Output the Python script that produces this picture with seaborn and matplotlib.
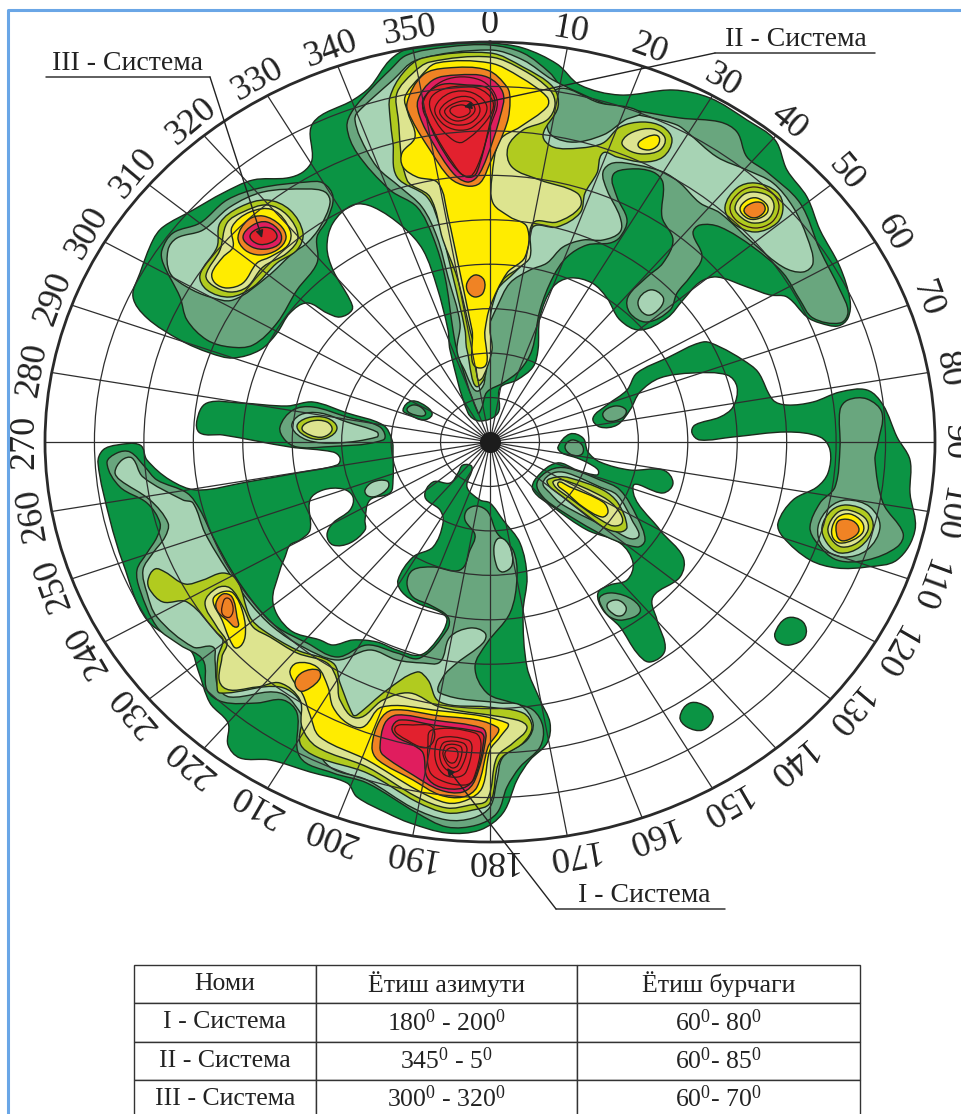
import numpy as np
import matplotlib
matplotlib.use('Agg')
import matplotlib.pyplot as plt
from matplotlib.path import Path
from matplotlib.patches import PathPatch
import seaborn as sns

# ── Values ───────────────────────────────────────────────────────
# contours: (east, north) offsets, the rim is at east 445 and north 400
N_1 = [(0,399),(33,394),(67,378),(90,357),(130,347),(183,352),(220,344),(257,322),(285,302),(297,272),(317,245),(330,212),(350,175),(360,142),(358,124),(348,116),(330,119),(317,125),(297,145),(280,147),(257,155),(227,165),(210,160),(193,142),(177,124),(150,112),(130,122),(117,144),(102,159),(80,164),(63,155),(50,125),(48,92),(43,75),(27,62),(10,54),(8,29),(-10,21),(-22,29),(-40,92),(-42,112),(-53,155),(-67,192),(-87,215),(-117,235),(-137,237),(-157,219),(-163,195),(-157,172),(-140,142),(-138,132),(-150,125),(-163,129),(-183,139),(-200,129),(-213,109),(-230,92),(-257,84),(-280,89),(-310,102),(-343,124),(-357,145),(-350,169),(-337,202),(-327,215),(-297,232),(-267,249),(-237,262),(-203,264),(-187,270),(-178,282),(-177,319),(-137,342),(-120,355),(-100,382),(-80,394),(-33,399)]
N_2 = [(0,397),(33,389),(60,369),(73,354),(107,339),(143,332),(190,324),(230,320),(247,310),(257,285),(277,270),(310,239),(330,192),(350,152),(358,130),(350,119),(323,124),(310,142),(293,169),(263,195),(230,215),(210,217),(203,209),(212,185),(200,165),(187,149),(180,132),(157,120),(140,129),(138,145),(157,165),(173,179),(183,202),(172,225),(173,259),(163,270),(140,273),(123,267),(127,245),(137,222),(130,205),(120,199),(97,197),(77,185),(63,165),(50,132),(42,92),(30,72),(13,59),(-3,50),(-8,35),(-12,29),(-33,92),(-37,112),(-45,165),(-57,205),(-73,235),(-100,252),(-133,289),(-143,315),(-137,332),(-117,355),(-100,372),(-83,387),(-43,395)]
N_3 = [(0,392),(33,382),(63,362),(110,340),(140,329),(163,324),(187,317),(197,310),(227,285),(257,272),(283,259),(303,235),(317,205),(323,179),(313,170),(293,175),(263,199),(230,229),(210,239),(190,259),(173,270),(147,277),(123,279),(113,270),(117,252),(130,225),(130,210),(113,202),(93,202),(73,195),(57,179),(40,172),(20,159),(7,135),(-3,112),(-8,92),(-10,52),(-27,75),(-33,92),(-30,119),(-42,165),(-53,205),(-68,235),(-90,255),(-113,275),(-130,305),(-135,322),(-133,329),(-97,362),(-73,382)]
N_2B = [(65,352),(58,312),(80,300),(113,307),(135,322),(150,330),(110,339)]
N_3B = [(148,140),(160,152),(173,145),(170,134),(157,127)]
N_4 = [(0,389),(33,375),(63,355),(68,335),(53,307),(63,295),(90,294),(113,299),(130,315),(153,320),(173,315),(182,302),(173,285),(153,280),(127,285),(113,289),(107,269),(95,249),(90,229),(67,215),(43,215),(38,185),(25,170),(7,152),(-3,125),(-5,112),(-10,57),(-23,92),(-25,112),(-37,165),(-50,215),(-63,245),(-93,265),(-97,299),(-100,325),(-100,345),(-87,369),(-67,384)]
N_5 = [(0,385),(33,372),(60,352),(65,337),(57,322),(33,312),(18,295),(22,275),(50,262),(87,249),(90,235),(67,220),(43,219),(40,185),(30,175),(13,162),(2,135),(0,112),(2,92),(-7,65),(-12,62),(-15,92),(-20,112),(-33,165),(-47,202),(-60,245),(-83,262),(-92,325),(-93,349),(-77,369),(-60,380)]
N_6 = [(-70,365),(-53,379),(0,379),(30,365),(57,345),(57,335),(30,315),(10,302),(2,265),(3,239),(20,225),(37,215),(35,185),(17,169),(0,135),(-5,112),(-10,74),(-18,112),(-32,179),(-42,225),(-52,259),(-73,265),(-87,275),(-88,289),(-75,305),(-82,329),(-85,345)]
N_7 = [(-83,339),(-67,367),(-43,374),(-3,372),(17,355),(20,342),(17,319),(0,279),(-10,259),(-23,256),(-40,264),(-60,292),(-78,322)]
N_8 = [(-72,342),(-57,362),(-33,367),(-3,365),(13,349),(10,325),(-3,285),(-13,265),(-23,260),(-37,269),(-57,299),(-70,325)]
N_9 = [(-67,342),(-50,357),(-23,357),(-3,354),(5,340),(0,319),(-10,279),(-18,265),(-33,272),(-53,302),(-63,325)]
N_RINGS = [
    [(-67,339),(-57,312),(-37,279),(-23,265),(-13,275),(0,315),(7,342),(-10,362),(-45,362)],
    [(-60,342),(-43,354),(-13,354),(3,340),(-3,322),(-27,300),(-37,302),(-53,319)],
    [(-55,334),(-40,349),(-17,349),(-3,334),(-17,315),(-33,312),(-48,319)],
    [(-50,332),(-35,344),(-18,344),(-10,332),(-18,320),(-33,317),(-45,322)],
    [(-45,332),(-32,340),(-20,340),(-15,332),(-22,324),(-33,321),(-42,325)],
    [(-40,332),(-30,337),(-22,335),(-20,330),(-25,326),(-33,325)],
]
N_7B = [(-23,159),(-15,167),(-6,162),(-7,149),(-15,145),(-22,150)]
ARM_5 = [(132,300),(143,310),(163,313),(175,304),(170,292),(153,288),(138,292)]
ARM_6 = [(148,297),(157,305),(168,306),(168,297),(158,292)]
B40_4 = [(235,235),(247,254),(265,259),(287,250),(293,235),(287,219),(265,210),(243,219)]
B40_RING = [(240,235),(250,250),(265,255),(283,248),(289,235),(282,220),(265,214),(247,221)]
B40_5 = [(245,234),(253,247),(265,250),(280,245),(284,234),(277,222),(263,219),(252,224)]
B40_6 = [(250,233),(257,242),(267,244),(277,237),(277,229),(267,223),(257,224)]
B40_7 = [(254,232),(262,239),(272,239),(275,232),(268,225),(260,225)]

NW_2 = [(-328,192),(-317,209),(-290,219),(-263,242),(-230,254),(-183,260),(-167,259),(-157,245),(-163,222),(-173,205),(-173,179),(-193,152),(-213,119),(-237,97),(-260,95),(-283,102),(-303,122),(-310,145),(-327,179)]
NW_3 = [(-322,192),(-313,204),(-287,212),(-260,235),(-227,250),(-183,253),(-165,250),(-160,239),(-170,215),(-183,199),(-197,189),(-223,165),(-257,142),(-280,145),(-303,155),(-320,169)]
NW_4 = [(-290,167),(-273,195),(-270,219),(-250,235),(-223,242),(-200,232),(-187,209),(-193,192),(-213,179),(-237,155),(-260,145),(-283,152)]
NW_5 = [(-284,167),(-270,192),(-263,219),(-247,230),(-223,237),(-203,227),(-192,205),(-203,189),(-227,175),(-243,155),(-260,150),(-278,157)]
NW_6 = [(-278,169),(-267,185),(-257,195),(-258,215),(-240,230),(-217,232),(-200,212),(-202,197),(-220,185),(-233,179),(-247,159),(-263,154),(-275,159)]
NW_7 = [(-252,205),(-242,222),(-227,226),(-210,217),(-204,204),(-213,192),(-230,187),(-245,192)]
NW_8 = [(-247,205),(-237,217),(-223,220),(-210,210),(-210,199),(-223,193),(-238,195)]
NW_9 = [(-240,206),(-230,214),(-218,213),(-213,205),(-220,199),(-232,198)]

W_2 = [(-210,15),(-197,32),(-177,35),(-143,25),(-110,15),(-107,2),(-167,-5),(-193,-5),(-205,2)]
W_3 = [(-198,15),(-190,27),(-170,29),(-143,20),(-113,10),(-113,5),(-153,-1),(-183,2)]
W_4 = [(-193,15),(-183,24),(-163,24),(-153,14),(-163,4),(-180,4)]
W_5 = [(-188,14),(-178,21),(-163,20),(-158,12),(-167,5),(-180,7)]
ISLET_1 = [(-87,32),(-78,41),(-63,35),(-58,27),(-67,22),(-80,27)]
ISLET_2 = [(-83,32),(-77,37),(-68,34),(-65,27),(-75,27)]

SW_1 = [(-293,22),(-283,39),(-250,39),(-203,36),(-177,40),(-143,29),(-107,17),(-98,2),(-97,-13),(-97,-38),(-100,-51),(-120,-58),(-125,-78),(-125,-88),(-140,-101),(-157,-103),(-163,-93),(-157,-81),(-140,-68),(-137,-55),(-147,-47),(-167,-48),(-180,-58),(-180,-88),(-190,-98),(-200,-103),(-205,-115),(-210,-128),(-217,-161),(-200,-188),(-170,-198),(-157,-203),(-137,-198),(-113,-200),(-93,-208),(-70,-213),(-53,-198),(-43,-178),(-50,-170),(-73,-161),(-88,-150),(-92,-138),(-77,-115),(-57,-105),(-47,-81),(-50,-68),(-65,-55),(-57,-40),(-40,-41),(-32,-31),(-27,-23),(-18,-25),(-23,-45),(-10,-58),(0,-61),(13,-78),(30,-101),(37,-135),(33,-171),(37,-225),(50,-258),(60,-281),(57,-301),(40,-318),(27,-338),(13,-371),(-10,-388),(-43,-391),(-80,-381),(-103,-371),(-133,-355),(-143,-341),(-180,-330),(-220,-318),(-250,-316),(-262,-303),(-262,-281),(-280,-261),(-292,-228),(-300,-208),(-343,-178),(-367,-121),(-380,-78),(-392,-21),(-387,-8),(-373,-3),(-350,-3),(-343,-18),(-320,-38),(-293,-48),(-243,-40),(-193,-31),(-153,-23),(-150,-16),(-157,-10),(-200,-5),(-267,7),(-290,9)]
SW_2 = [(-383,-21),(-373,-11),(-360,-10),(-345,-25),(-333,-38),(-303,-51),(-290,-68),(-277,-95),(-257,-131),(-233,-165),(-213,-185),(-183,-201),(-153,-215),(-123,-203),(-93,-211),(-70,-216),(-43,-188),(-42,-175),(-60,-163),(-77,-155),(-83,-141),(-77,-128),(-57,-125),(-30,-128),(-20,-108),(-15,-93),(-25,-78),(-23,-68),(-13,-64),(-2,-70),(7,-91),(23,-108),(27,-135),(20,-171),(-3,-201),(-15,-225),(-3,-251),(23,-261),(43,-268),(53,-285),(50,-305),(30,-325),(17,-345),(7,-371),(-13,-383),(-43,-385),(-73,-371),(-123,-341),(-157,-331),(-190,-315),(-193,-271),(-207,-258),(-233,-261),(-267,-260),(-283,-248),(-287,-218),(-310,-203),(-333,-185),(-350,-148),(-353,-128),(-343,-111),(-333,-95),(-330,-81),(-343,-61),(-370,-45)]
SW_3 = [(-375,-30),(-368,-18),(-358,-16),(-347,-35),(-307,-58),(-297,-61),(-285,-91),(-263,-128),(-240,-161),(-217,-185),(-187,-205),(-153,-218),(-120,-208),(-93,-218),(-67,-221),(-50,-220),(-40,-195),(-20,-186),(-5,-191),(-7,-201),(-33,-221),(-47,-235),(-50,-251),(10,-261),(30,-263),(43,-281),(37,-298),(13,-315),(7,-338),(0,-365),(-17,-376),(-43,-378),(-77,-366),(-123,-338),(-160,-325),(-180,-295),(-187,-275),(-210,-251),(-260,-255),(-272,-245),(-275,-218),(-277,-205),(-297,-205),(-333,-175),(-343,-151),(-347,-128),(-337,-111),(-325,-95),(-322,-81),(-340,-58),(-370,-38)]
SW_4 = [(-342,-138),(-335,-127),(-325,-130),(-305,-142),(-287,-138),(-267,-131),(-253,-138),(-240,-175),(-227,-188),(-193,-208),(-157,-221),(-150,-241),(-137,-273),(-133,-273),(-103,-248),(-73,-230),(-62,-238),(-50,-260),(-3,-265),(33,-271),(42,-285),(33,-301),(10,-318),(0,-361),(-17,-368),(-43,-371),(-73,-360),(-123,-331),(-173,-315),(-190,-301),(-187,-265),(-210,-245),(-270,-251),(-273,-241),(-272,-215),(-267,-198),(-273,-191),(-303,-160),(-327,-160),(-340,-148)]
SW_5 = [(-285,-161),(-273,-146),(-260,-146),(-247,-165),(-237,-185),(-220,-195),(-193,-211),(-163,-221),(-153,-238),(-150,-258),(-133,-276),(-107,-258),(-80,-251),(-50,-265),(27,-278),(37,-286),(23,-301),(7,-315),(-3,-358),(-20,-363),(-43,-366),(-73,-355),(-123,-325),(-173,-305),(-188,-285),(-190,-258),(-210,-241),(-233,-245),(-267,-245),(-268,-215),(-263,-201),(-273,-185)]
SW_6A = [(-277,-158),(-268,-150),(-257,-151),(-247,-171),(-245,-195),(-253,-206),(-260,-198),(-268,-178)]
SW_6B = [(-200,-231),(-193,-221),(-173,-225),(-162,-245),(-157,-265),(-143,-281),(-127,-285),(-108,-265),(-57,-268),(17,-281),(10,-295),(0,-308),(-8,-346),(-23,-358),(-43,-361),(-73,-348),(-123,-318),(-170,-295),(-180,-273),(-187,-253)]
SW_7A = [(-274,-161),(-267,-152),(-258,-155),(-253,-175),(-253,-185),(-263,-178),(-272,-170)]
SW_7A_RING = [(-268,-165),(-263,-156),(-257,-165),(-260,-175),(-267,-173)]
SW_7B = [(-195,-240),(-187,-230),(-172,-228),(-170,-236),(-180,-246),(-190,-249)]
S_7 = [(-118,-305),(-110,-278),(-97,-268),(-57,-273),(7,-285),(-2,-305),(-13,-345),(-27,-355),(-50,-353),(-77,-338),(-112,-318)]
S_8 = [(-110,-305),(-105,-281),(-93,-273),(-57,-278),(-8,-286),(-4,-295),(-15,-338),(-27,-350),(-50,-348),(-77,-333),(-107,-313)]
S_9 = [(-98,-286),(-90,-278),(-57,-283),(-10,-290),(-6,-296),(-15,-335),(-27,-346),(-50,-345),(-63,-335),(-67,-311),(-77,-303),(-93,-295)]
S_RINGS = [
    [(-62,-303),(-58,-288),(-15,-291),(-9,-303),(-17,-338),(-25,-343),(-45,-340),(-60,-330)],
    [(-55,-308),(-50,-296),(-22,-298),(-18,-306),(-24,-330),(-32,-335),(-45,-333),(-53,-323)],
    [(-50,-308),(-45,-300),(-27,-301),(-23,-308),(-29,-326),(-35,-330),(-43,-328),(-49,-320)],
    [(-47,-310),(-43,-303),(-30,-304),(-28,-310),(-32,-323),(-37,-326),(-42,-323),(-46,-316)],
    [(-45,-311),(-40,-306),(-34,-307),(-32,-313),(-35,-320),(-39,-321),(-43,-318)],
    [(-95,-286),(-77,-283),(-57,-286),(-62,-305),(-83,-298)],
]
S_3B = [(4,-105),(10,-96),(20,-105),(22,-123),(13,-130),(7,-125)]
SW_3B = [(-125,-48),(-117,-40),(-103,-39),(-102,-46),(-113,-54),(-122,-54)]

E_1 = [(202,9),(205,17),(230,25),(243,35),(247,55),(237,67),(203,69),(170,64),(150,50),(140,32),(127,17),(110,15),(103,24),(117,37),(137,52),(147,69),(177,84),(213,100),(230,95),(253,82),(268,70),(283,42),(297,37),(323,40),(350,50),(377,52),(393,37),(407,5),(420,-18),(420,-51),(425,-88),(407,-118),(377,-125),(347,-126),(320,-118),(293,-95),(288,-81),(303,-58),(327,-45),(338,-31),(340,-8),(330,5),(297,10),(243,5),(210,2)]
E_2 = [(350,32),(358,42),(377,43),(392,29),(388,-1),(385,-18),(393,-61),(413,-91),(407,-105),(377,-118),(347,-118),(327,-101),(320,-85),(330,-61),(345,-45),(350,-5)]
E_3 = [(328,-85),(340,-65),(357,-58),(380,-65),(390,-85),(377,-108),(353,-115),(333,-105)]
E_4 = [(332,-85),(342,-68),(357,-63),(377,-70),(383,-86),(370,-105),(350,-111),(337,-101)]
E_5 = [(338,-86),(347,-71),(358,-68),(375,-76),(378,-88),(367,-101),(352,-105),(342,-98)]
E_6 = [(342,-86),(348,-75),(360,-72),(372,-80),(373,-90),(363,-98),(350,-101),(343,-96)]
E_7 = [(346,-85),(350,-78),(363,-79),(369,-88),(362,-96),(350,-98)]
NE_OVAL = [(113,29),(125,36),(136,32),(132,24),(118,21)]

SE_1 = [(68,-5),(80,8),(93,4),(98,-10),(110,-20),(140,-28),(173,-28),(183,-41),(173,-51),(143,-45),(170,-88),(193,-115),(190,-135),(163,-155),(167,-178),(175,-208),(160,-220),(147,-211),(130,-185),(113,-168),(108,-151),(120,-143),(137,-138),(143,-121),(130,-101),(97,-88),(63,-65),(43,-48),(47,-35),(67,-21),(87,-28),(107,-33),(108,-28),(98,-21),(87,-16),(72,-11)]
SE_2A = [(75,-5),(82,2),(92,-3),(92,-12),(82,-13)]
SE_2 = [(47,-41),(60,-28),(77,-26),(110,-38),(130,-48),(147,-75),(155,-98),(147,-105),(113,-93),(70,-68),(53,-55)]
SE_3 = [(53,-41),(63,-31),(77,-31),(110,-45),(127,-53),(142,-78),(147,-96),(123,-88),(73,-63),(60,-51)]
SE_4 = [(57,-40),(67,-35),(80,-36),(113,-48),(128,-61),(137,-85),(130,-90),(113,-85),(73,-55)]
SE_5 = [(63,-41),(73,-38),(113,-55),(128,-68),(132,-81),(120,-83),(80,-56)]
SE_6 = [(68,-41),(80,-45),(113,-60),(118,-70),(112,-75),(93,-65),(77,-51)]
SE_2B = [(110,-155),(123,-151),(143,-158),(150,-170),(133,-178),(120,-175),(112,-165)]
SE_3B = [(117,-163),(127,-158),(136,-165),(133,-173),(125,-173)]
DOT_A = [(285,-191),(297,-176),(313,-180),(315,-195),(300,-203),(288,-200)]
DOT_B = [(190,-275),(200,-261),(217,-265),(223,-276),(213,-288),(197,-285)]

LEVEL_COLOURS = ['#0b9444', '#69a67e', '#a7d3b4', '#b1cb1f', '#dde48f',
                 '#ffec00', '#f08324', '#e01d5e', '#e2212e']

# (level, contour) in drawing order
CONTOURS = [
    (0, N_1), (1, N_2), (2, N_3), (1, N_2B), (2, N_3B), (3, N_4), (4, N_5),
    (5, N_6), (6, N_7), (7, N_8), (8, N_9), (6, N_7B), (4, ARM_5), (5, ARM_6),
    (3, B40_4), (4, B40_5), (5, B40_6), (6, B40_7),
    (1, NW_2), (2, NW_3), (3, NW_4), (4, NW_5), (5, NW_6), (6, NW_7), (7, NW_8), (8, NW_9),
    (0, SW_1), (1, W_2), (2, W_3), (3, W_4), (4, W_5), (0, ISLET_1), (1, ISLET_2),
    (1, SW_2), (2, SW_3), (2, S_3B), (2, SW_3B), (3, SW_4), (4, SW_5), (5, SW_6A),
    (5, SW_6B), (6, SW_7A), (6, SW_7B), (6, S_7), (7, S_8), (8, S_9),
    (0, E_1), (1, E_2), (2, E_3), (3, E_4), (4, E_5), (5, E_6), (6, E_7), (1, NE_OVAL),
    (0, SE_1), (1, SE_2A), (1, SE_2), (2, SE_3), (3, SE_4), (4, SE_5), (5, SE_6),
    (1, SE_2B), (2, SE_3B), (0, DOT_A), (0, DOT_B),
]
RING_LINES = N_RINGS + S_RINGS + [B40_RING, SW_7A_RING]

AZIMUTHS = list(range(0, 360, 10))
DIP_RINGS = list(range(10, 90, 10))

SYSTEMS = ['I - Система', 'II - Система', 'III - Система']
TABLE_HEADER = ['Номи', 'Ётиш азимути', 'Ётиш бурчаги']
DIP_AZIMUTH = ['180$^{0}$ - 200$^{0}$', '345$^{0}$ - 5$^{0}$', '300$^{0}$ - 320$^{0}$']
DIP_ANGLE = ['60$^{0}$- 80$^{0}$', '60$^{0}$- 85$^{0}$', '60$^{0}$- 70$^{0}$']

# ── Helpers ──────────────────────────────────────────────────────
def smooth_path(contour):
    # cubic curves through the read points, in rim-scaled east/north
    pts = np.array(contour, dtype=float) / [445, 400] * 90
    nxt, prv = np.roll(pts, -1, axis=0), np.roll(pts, 1, axis=0)
    tan = nxt - prv
    tan = tan / np.maximum(np.linalg.norm(tan, axis=1, keepdims=True), 1e-9)
    seg = np.linalg.norm(nxt - pts, axis=1, keepdims=True)
    verts, codes = [pts[0]], [Path.MOVETO]
    for i in range(len(pts)):
        j = (i + 1) % len(pts)
        verts += [pts[i] + tan[i] * seg[i] / 3, pts[j] - tan[j] * seg[i] / 3, pts[j]]
        codes += [Path.CURVE4] * 3
    verts = np.array(verts)
    return Path(np.column_stack([np.arctan2(verts[:, 0], verts[:, 1]),
                                 np.hypot(verts[:, 0], verts[:, 1])]), codes)


# ── Figure ───────────────────────────────────────────────────────
sns.set_theme(style='white')
plt.rcParams['font.family'] = ['Liberation Serif', 'DejaVu Serif']
plt.rcParams['mathtext.fontset'] = 'custom'
plt.rcParams['mathtext.rm'] = 'Liberation Serif'
plt.rcParams['mathtext.default'] = 'rm'
palette = sns.color_palette(LEVEL_COLOURS)

W, H = 961, 1114
fig = plt.figure(figsize=(W / 100, H / 100), dpi=100, facecolor='white')
ax = fig.add_axes([45 / W, (H - 842) / H, 890 / W, 800 / H], projection='polar')
ax.set_aspect('auto')
ax.set_theta_zero_location('N')
ax.set_theta_direction(-1)

for level, contour in CONTOURS:
    ax.add_patch(PathPatch(smooth_path(contour), facecolor=palette[level],
                           edgecolor='#1d2a1d', lw=1.0, zorder=1))
for contour in RING_LINES:
    ax.add_patch(PathPatch(smooth_path(contour), facecolor='none',
                           edgecolor='#3a1a14', lw=0.9, zorder=1.2))

ax.set_ylim(0, 90)
ax.set_xticks(np.deg2rad(AZIMUTHS))
ax.set_xticklabels([])
ax.set_yticks(DIP_RINGS)
ax.set_yticklabels([])
ax.set_axisbelow(False)
ax.grid(True, color='#2e2e2e', lw=0.9)
ax.tick_params(length=0)
ax.spines['polar'].set_linewidth(2)
ax.spines['polar'].set_color('#2a2a2a')
ax.patch.set_alpha(0)

sns.scatterplot(x=[0], y=[0], s=230, color='#1c1c1c', linewidth=0, ax=ax, zorder=3)
ax.set_xlabel('')
ax.set_ylabel('')

for az in AZIMUTHS:
    ax.text(np.deg2rad(az), 94, str(az), rotation=-az, rotation_mode='anchor',
            ha='center', va='center', fontsize=26, color='#222222')

# page layer for the frame, leader lines and the table
page = fig.add_axes([0, 0, 1, 1], zorder=5)
page.set_xlim(0, W)
page.set_ylim(H, 0)
page.axis('off')
page.plot([8, 8, 961], [H, 10, 10], color='#6aa6e6', lw=2.2)

leaders = [
    (SYSTEMS[0], (644, 896), [(725, 909), (556, 909)], (447, 768)),
    (SYSTEMS[1], (796, 40), [(875, 53), (715, 53)], (464, 107)),
    (SYSTEMS[2], (128, 63), [(46, 77), (210, 77)], (262, 238)),
]
for name, pos, under, tip in leaders:
    page.text(pos[0], pos[1], name, ha='center', va='center', fontsize=20, color='#222222')
    page.plot(*zip(*under), color='#333333', lw=1.1)
    page.annotate('', xy=tip, xytext=under[1],
                  arrowprops=dict(arrowstyle='-|>', color='#222222', lw=1.0,
                                  shrinkA=0, shrinkB=0, mutation_scale=11))

cells = [[s, a, d] for s, a, d in zip(SYSTEMS, DIP_AZIMUTH, DIP_ANGLE)]
tb = page.table(cellText=cells, colLabels=TABLE_HEADER, cellLoc='center',
                colWidths=[182 / 726, 261 / 726, 283 / 726],
                bbox=[134 / W, (H - 1118) / H, 726 / W, 153 / H])
tb.auto_set_font_size(False)
tb.set_fontsize(18.5)
for cell in tb.get_celld().values():
    cell.set_linewidth(1.0)
    cell.set_edgecolor('#333333')
    cell.get_text().set_color('#222222')

fig.savefig('out.png', dpi=100)
plt.close(fig)
